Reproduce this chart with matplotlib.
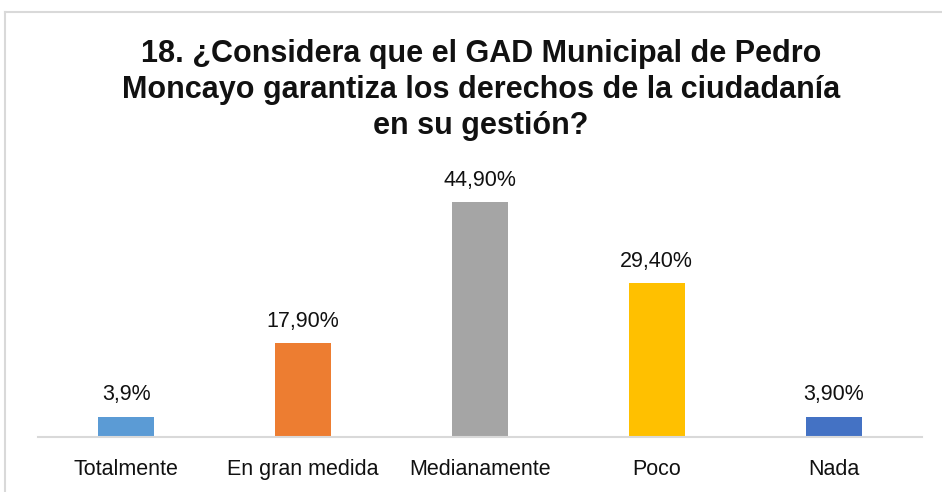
import matplotlib
matplotlib.use("Agg")
import matplotlib.pyplot as plt
from matplotlib.lines import Line2D

categories = ["Totalmente", "En gran medida", "Medianamente", "Poco", "Nada"]
values = [3.9, 17.9, 44.9, 29.4, 3.9]
value_labels = ["3,9%", "17,90%", "44,90%", "29,40%", "3,90%"]
colors = ["#5B9BD5", "#ED7D31", "#A5A5A5", "#FFC000", "#4472C4"]
title = ("18. ¿Considera que el GAD Municipal de Pedro\n"
         "Moncayo garantiza los derechos de la ciudadanía\n"
         "en su gestión?")

W, H = 942, 492
fig = plt.figure(figsize=(W / 100, H / 100), dpi=100)
fig.patch.set_facecolor("white")

# frame
fig.add_artist(Line2D([5 / W, 1.0], [1 - 12 / H, 1 - 12 / H], transform=fig.transFigure,
                      color="#D9D9D9", lw=1.5))
fig.add_artist(Line2D([5 / W, 5 / W], [0, 1 - 12 / H], transform=fig.transFigure,
                      color="#D9D9D9", lw=1.5))

left, right = 38 / W, 922 / W
bottom = 1 - 437 / H
top = 1 - 175.5 / H
ax = fig.add_axes([left, bottom, right - left, top - bottom])
x = list(range(len(categories)))
ax.bar(x, values, width=0.316, color=colors)
ax.set_xlim(-0.5, len(categories) - 0.5)
ax.set_ylim(0, 50)
for s in ["top", "right", "left"]:
    ax.spines[s].set_visible(False)
ax.spines["bottom"].set_color("#D9D9D9")
ax.spines["bottom"].set_linewidth(1.5)
ax.set_yticks([])
ax.set_xticks(x)
ax.set_xticklabels(categories, fontsize=15.5, family="Liberation Sans", color="#111111")
ax.tick_params(axis="x", length=0, pad=16)

for xi, v, lab in zip(x, values, value_labels):
    ax.annotate(lab, (xi, v), xytext=(0, 8), textcoords="offset points",
                ha="center", va="bottom", fontsize=15.5, family="Liberation Sans",
                color="#111111")

fig.text(481 / W, 1 - 90 / H, title, ha="center", va="center", fontsize=22,
         fontweight="bold", family="Liberation Sans", color="#111111", linespacing=1.27)

fig.savefig("out.png", dpi=100)
